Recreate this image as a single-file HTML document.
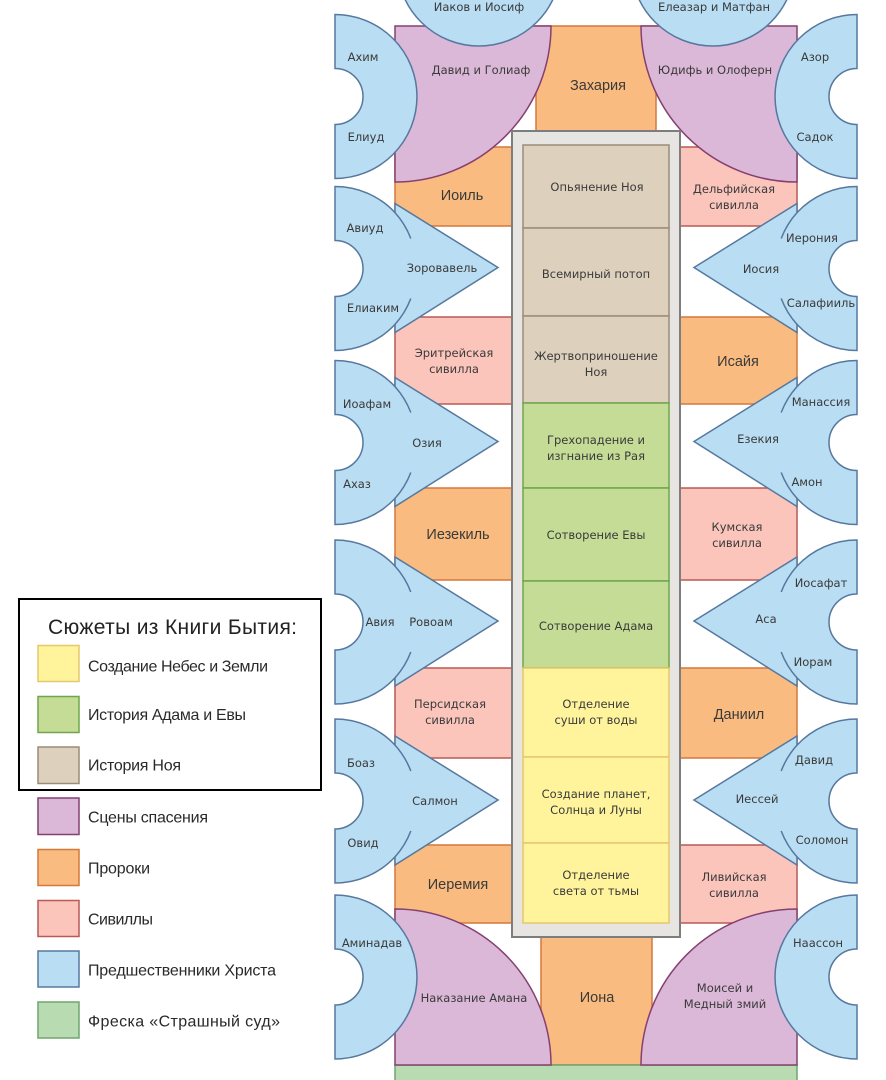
<!DOCTYPE html>
<html><head><meta charset="utf-8">
<style>
html,body{margin:0;padding:0;background:#fff;}
svg{display:block;}
.t{font-family:"DejaVu Sans","Liberation Sans",sans-serif;font-size:11.5px;fill:#3a3a3a;text-anchor:middle;}
.p{font-family:"Liberation Sans","DejaVu Sans",sans-serif;font-size:14.5px;fill:#3a3a3a;text-anchor:middle;}
.l{font-family:"Liberation Sans","DejaVu Sans",sans-serif;font-size:16px;fill:#2a2a2a;}
.h{font-family:"Liberation Sans","DejaVu Sans",sans-serif;font-size:21px;fill:#222;}
</style></head><body>
<svg width="886" height="1080" viewBox="0 0 886 1080" xmlns="http://www.w3.org/2000/svg">
<defs>
<path id="tshape" d="M335,-82 A82,82 0 0 1 395,-55.9 L395,-65 L498,-1 L395,64 L395,55.9 A82,82 0 0 1 335,82 L335,28 A28,28 0 0 0 335,-28 Z" fill="#b9ddf2" stroke="#56789f" stroke-width="1.5"/>
<path id="tarcs" d="M395,-55.9 A82,82 0 0 1 410.8,-30 M410.8,30 A82,82 0 0 1 395,55.9" fill="none" stroke="#56789f" stroke-width="1.5"/>
<path id="dshape" d="M335,-82 A82,82 0 0 1 335,82 L335,28 A28,28 0 0 0 335,-28 Z" fill="#b9ddf2" stroke="#56789f" stroke-width="1.5"/>
</defs>

<!-- Zechariah & Jonah -->
<rect x="536" y="26" width="120" height="105" fill="#f9bb7f" stroke="#d4783c" stroke-width="1.5"/>
<rect x="541" y="937" width="111" height="128" fill="#f9bb7f" stroke="#d4783c" stroke-width="1.5"/>

<!-- Left rects -->
<rect x="395" y="147" width="117" height="79" fill="#f9bb7f" stroke="#d4783c" stroke-width="1.5"/>
<rect x="395" y="317" width="117" height="87" fill="#fbc5bc" stroke="#b85a55" stroke-width="1.5"/>
<rect x="395" y="488" width="117" height="92" fill="#f9bb7f" stroke="#d4783c" stroke-width="1.5"/>
<rect x="395" y="668" width="117" height="90" fill="#fbc5bc" stroke="#b85a55" stroke-width="1.5"/>
<rect x="395" y="845" width="117" height="78" fill="#f9bb7f" stroke="#d4783c" stroke-width="1.5"/>
<!-- Right rects -->
<rect x="680" y="147" width="117" height="79" fill="#fbc5bc" stroke="#b85a55" stroke-width="1.5"/>
<rect x="680" y="317" width="117" height="87" fill="#f9bb7f" stroke="#d4783c" stroke-width="1.5"/>
<rect x="680" y="488" width="117" height="92" fill="#fbc5bc" stroke="#b85a55" stroke-width="1.5"/>
<rect x="680" y="668" width="117" height="90" fill="#f9bb7f" stroke="#d4783c" stroke-width="1.5"/>
<rect x="680" y="845" width="117" height="78" fill="#fbc5bc" stroke="#b85a55" stroke-width="1.5"/>

<!-- Last Judgement band -->
<rect x="395" y="1065" width="402" height="24" fill="#b8dbb1" stroke="#6fa570" stroke-width="1.5"/>

<!-- Purple quarter disks -->
<path d="M395,26 L551,26 A156,156 0 0 1 395,182 Z" fill="#dbb8d7" stroke="#85406f" stroke-width="1.5"/>
<path d="M797,26 L641,26 A156,156 0 0 0 797,182 Z" fill="#dbb8d7" stroke="#85406f" stroke-width="1.5"/>
<path d="M395,1065 L395,909 A156,156 0 0 1 551,1065 Z" fill="#dbb8d7" stroke="#85406f" stroke-width="1.5"/>
<path d="M797,1065 L797,909 A156,156 0 0 0 641,1065 Z" fill="#dbb8d7" stroke="#85406f" stroke-width="1.5"/>

<!-- Central frame -->
<rect x="512" y="131" width="168" height="806" fill="#e7e5e1" stroke="#7d7d7d" stroke-width="2"/>
<rect x="523" y="145" width="146" height="83" fill="#ddd1bd" stroke="#9c8b7a" stroke-width="1.5"/>
<rect x="523" y="228" width="146" height="88" fill="#ddd1bd" stroke="#9c8b7a" stroke-width="1.5"/>
<rect x="523" y="316" width="146" height="87" fill="#ddd1bd" stroke="#9c8b7a" stroke-width="1.5"/>
<rect x="523" y="403" width="146" height="85" fill="#c5dc96" stroke="#6fa64c" stroke-width="1.5"/>
<rect x="523" y="488" width="146" height="93" fill="#c5dc96" stroke="#6fa64c" stroke-width="1.5"/>
<rect x="523" y="581" width="146" height="87" fill="#c5dc96" stroke="#6fa64c" stroke-width="1.5"/>
<rect x="523" y="668" width="146" height="89" fill="#fff49c" stroke="#e5c76c" stroke-width="1.5"/>
<rect x="523" y="757" width="146" height="86" fill="#fff49c" stroke="#e5c76c" stroke-width="1.5"/>
<rect x="523" y="843" width="146" height="80" fill="#fff49c" stroke="#e5c76c" stroke-width="1.5"/>

<!-- Top circles -->
<circle cx="479" cy="-36" r="82" fill="#b9ddf2" stroke="#56789f" stroke-width="1.5"/>
<circle cx="713" cy="-36" r="82" fill="#b9ddf2" stroke="#56789f" stroke-width="1.5"/>

<!-- Left ancestor shapes -->
<use href="#dshape" transform="translate(0,96.5)"/>
<use href="#tshape" transform="translate(0,268.5)"/><use href="#tarcs" transform="translate(0,268.5)"/>
<use href="#tshape" transform="translate(0,442.5)"/><use href="#tarcs" transform="translate(0,442.5)"/>
<use href="#tshape" transform="translate(0,622)"/><use href="#tarcs" transform="translate(0,622)"/>
<use href="#tshape" transform="translate(0,801)"/><use href="#tarcs" transform="translate(0,801)"/>
<use href="#dshape" transform="translate(0,977)"/>
<!-- Right ancestor shapes (mirrored) -->
<g transform="translate(1192,0) scale(-1,1)">
<use href="#dshape" transform="translate(0,96.5)"/>
<use href="#tshape" transform="translate(0,268.5)"/><use href="#tarcs" transform="translate(0,268.5)"/>
<use href="#tshape" transform="translate(0,442.5)"/><use href="#tarcs" transform="translate(0,442.5)"/>
<use href="#tshape" transform="translate(0,622)"/><use href="#tarcs" transform="translate(0,622)"/>
<use href="#tshape" transform="translate(0,801)"/><use href="#tarcs" transform="translate(0,801)"/>
<use href="#dshape" transform="translate(0,977)"/>
</g>

<!-- Labels: top circles -->
<text class="t" x="479" y="11">Иаков и Иосиф</text>
<text class="t" x="714" y="11">Елеазар и Матфан</text>

<!-- Purple labels -->
<text class="t" x="481" y="74">Давид и Голиаф</text>
<text class="t" x="715" y="74">Юдифь и Олоферн</text>
<text class="t" x="474" y="1002">Наказание Амана</text>
<text class="t" x="725" y="992">Моисей и</text>
<text class="t" x="725" y="1008">Медный змий</text>

<!-- Prophets -->
<text class="p" x="598" y="90">Захария</text>
<text class="p" x="462" y="200">Иоиль</text>
<text class="p" x="458" y="539">Иезекиль</text>
<text class="p" x="458" y="889">Иеремия</text>
<text class="p" x="738" y="366">Исайя</text>
<text class="p" x="739" y="719">Даниил</text>
<text class="p" x="597" y="1002">Иона</text>

<!-- Sibyls -->
<text class="t" x="454" y="357">Эритрейская</text>
<text class="t" x="454" y="373">сивилла</text>
<text class="t" x="450" y="708">Персидская</text>
<text class="t" x="450" y="724">сивилла</text>
<text class="t" x="734" y="193">Дельфийская</text>
<text class="t" x="734" y="209">сивилла</text>
<text class="t" x="737" y="531">Кумская</text>
<text class="t" x="737" y="547">сивилла</text>
<text class="t" x="734" y="881">Ливийская</text>
<text class="t" x="734" y="897">сивилла</text>

<!-- Central panels -->
<text class="t" x="597" y="191">Опьянение Ноя</text>
<text class="t" x="596" y="278">Всемирный потоп</text>
<text class="t" x="596" y="360">Жертвоприношение</text>
<text class="t" x="596" y="376">Ноя</text>
<text class="t" x="596" y="444">Грехопадение и</text>
<text class="t" x="596" y="460">изгнание из Рая</text>
<text class="t" x="596" y="539">Сотворение Евы</text>
<text class="t" x="596" y="630">Сотворение Адама</text>
<text class="t" x="596" y="708">Отделение</text>
<text class="t" x="596" y="724">суши от воды</text>
<text class="t" x="596" y="798">Создание планет,</text>
<text class="t" x="596" y="814">Солнца и Луны</text>
<text class="t" x="596" y="879">Отделение</text>
<text class="t" x="596" y="895">света от тьмы</text>

<!-- Left ancestor labels -->
<text class="t" x="363" y="61">Ахим</text>
<text class="t" x="366" y="141">Елиуд</text>
<text class="t" x="365" y="232">Авиуд</text>
<text class="t" x="442" y="272">Зоровавель</text>
<text class="t" x="373" y="312">Елиаким</text>
<text class="t" x="367" y="408">Иоафам</text>
<text class="t" x="427" y="447">Озия</text>
<text class="t" x="357" y="488">Ахаз</text>
<text class="t" x="380" y="626">Авия</text>
<text class="t" x="431" y="626">Ровоам</text>
<text class="t" x="361" y="767">Боаз</text>
<text class="t" x="435" y="805">Салмон</text>
<text class="t" x="363" y="847">Овид</text>
<text class="t" x="372" y="947">Аминадав</text>

<!-- Right ancestor labels -->
<text class="t" x="815" y="61">Азор</text>
<text class="t" x="815" y="141">Садок</text>
<text class="t" x="812" y="242">Иерония</text>
<text class="t" x="761" y="273">Иосия</text>
<text class="t" x="821" y="307">Салафииль</text>
<text class="t" x="821" y="406">Манассия</text>
<text class="t" x="758" y="443">Езекия</text>
<text class="t" x="807" y="486">Амон</text>
<text class="t" x="821" y="587">Иосафат</text>
<text class="t" x="766" y="623">Аса</text>
<text class="t" x="813" y="666">Иорам</text>
<text class="t" x="814" y="764">Давид</text>
<text class="t" x="757" y="803">Иессей</text>
<text class="t" x="822" y="844">Соломон</text>
<text class="t" x="818" y="947">Наассон</text>

<!-- Legend -->
<rect x="19" y="599" width="302" height="191" fill="#fff" stroke="#000" stroke-width="2"/>
<text class="h" x="48" y="634" textLength="249">Сюжеты из Книги Бытия:</text>

<rect x="38" y="645.5" width="41" height="36" fill="#fff49c" stroke="#e5c76c" stroke-width="1.5"/>
<text class="l" x="88" y="671.5" textLength="180">Создание Небес и Земли</text>
<rect x="38" y="696.5" width="41" height="36" fill="#c5dc96" stroke="#6fa64c" stroke-width="1.5"/>
<text class="l" x="88" y="720" textLength="158">История Адама и Евы</text>
<rect x="38" y="747" width="41" height="36.5" fill="#ddd1bd" stroke="#9c8b7a" stroke-width="1.5"/>
<text class="l" x="88" y="770.5" textLength="93">История Ноя</text>

<rect x="38" y="798" width="41" height="36.5" fill="#dbb8d7" stroke="#85406f" stroke-width="1.5"/>
<text class="l" x="88" y="822.5" textLength="120">Сцены спасения</text>
<rect x="38" y="849.5" width="41" height="36" fill="#f9bb7f" stroke="#d4783c" stroke-width="1.5"/>
<text class="l" x="88" y="873.5" textLength="62">Пророки</text>
<rect x="38" y="900.5" width="41" height="36" fill="#fbc5bc" stroke="#b85a55" stroke-width="1.5"/>
<text class="l" x="88" y="924.5" textLength="65">Сивиллы</text>
<rect x="38" y="951" width="41" height="36" fill="#b9ddf2" stroke="#56789f" stroke-width="1.5"/>
<text class="l" x="88" y="975.5" textLength="188">Предшественники Христа</text>
<rect x="38" y="1002" width="41" height="36" fill="#b8dbb1" stroke="#6fa570" stroke-width="1.5"/>
<text class="l" x="88" y="1026.5" textLength="192">Фреска «Страшный суд»</text>
</svg>
</body></html>
